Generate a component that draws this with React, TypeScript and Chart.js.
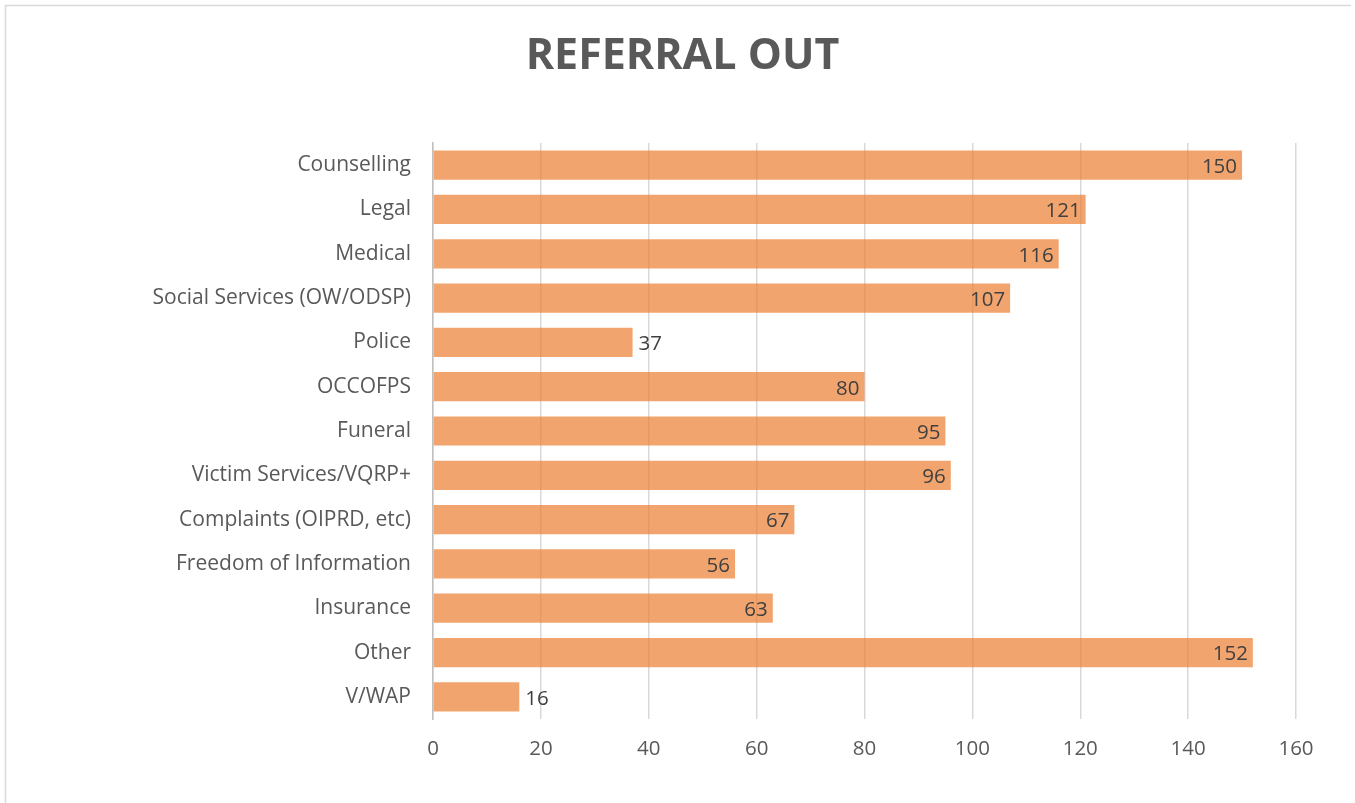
import React, { useEffect, useRef } from "react";
import { Chart, registerables } from "chart.js";

Chart.register(...registerables);

const categories = [
  "Counselling",
  "Legal",
  "Medical",
  "Social Services (OW/ODSP)",
  "Police",
  "OCCOFPS",
  "Funeral",
  "Victim Services/VQRP+",
  "Complaints (OIPRD, etc)",
  "Freedom of Information",
  "Insurance",
  "Other",
  "V/WAP",
];
const values = [150, 121, 116, 107, 37, 80, 95, 96, 67, 56, 63, 152, 16];
const xTicks = [0, 20, 40, 60, 80, 100, 120, 140, 160];
const title = "REFERRAL OUT";

const FONT = "'Open Sans', 'Noto Sans', sans-serif";

const borderPlugin = {
  id: "outerBorder",
  beforeDraw(chart: any) {
    const ctx = chart.ctx;
    ctx.save();
    ctx.fillStyle = "#ffffff";
    ctx.fillRect(0, 0, chart.width, chart.height);
    ctx.strokeStyle = "#d9d9d9";
    ctx.lineWidth = 1.5;
    ctx.beginPath();
    ctx.moveTo(5.5, chart.height);
    ctx.lineTo(5.5, 5.5);
    ctx.lineTo(chart.width - 4, 5.5);
    ctx.stroke();
    ctx.restore();
  },
  afterDraw(chart: any) {
    const ctx = chart.ctx;
    ctx.save();
    ctx.font = `bold 43px ${FONT}`;
    ctx.fillStyle = "#595959";
    ctx.textAlign = "center";
    ctx.textBaseline = "middle";
    ctx.fillText(title, chart.width / 2 + 5, 57);
    ctx.restore();
  },
};

const labelPlugin = {
  id: "barLabels",
  afterDatasetsDraw(chart: any) {
    const ctx = chart.ctx;
    const meta = chart.getDatasetMeta(0);
    const data = chart.data.datasets[0].data as number[];
    ctx.save();
    ctx.font = `20.5px ${FONT}`;
    ctx.fillStyle = "#404040";
    ctx.textBaseline = "middle";
    meta.data.forEach((bar: any, i: number) => {
      const v = data[i];
      const text = String(v);
      if (v < 40) {
        ctx.textAlign = "left";
        ctx.fillText(text, bar.x + 6, bar.y + 2);
      } else {
        ctx.textAlign = "right";
        ctx.fillText(text, bar.x - 5, bar.y + 2);
      }
    });
    ctx.restore();
  },
};

export default function App() {
  const ref = useRef<HTMLCanvasElement | null>(null);

  useEffect(() => {
    document.body.style.margin = "0";
    const canvas = ref.current;
    if (!canvas) return;
    const chart = new Chart(canvas, {
      type: "bar",
      data: {
        labels: categories,
        datasets: [
          {
            data: values,
            backgroundColor: "rgba(237,125,49,0.7)",
            borderWidth: 0,
            categoryPercentage: 1,
            barPercentage: 0.66,
          },
        ],
      },
      options: {
        indexAxis: "y",
        responsive: false,
        animation: false,
        devicePixelRatio: 1,
        layout: { padding: { left: 0, right: 59, top: 143, bottom: 22 } },
        plugins: {
          legend: { display: false },
          tooltip: { enabled: false },
          title: { display: false },
        },
        scales: {
          x: {
            min: 0,
            max: 160,
            afterBuildTicks(scale: any) {
              scale.ticks = xTicks.map((v) => ({ value: v }));
            },
            afterFit(scale: any) {
              scale.height = 62;
            },
            grid: { color: "#d9d9d9", lineWidth: 1.5, drawTicks: false },
            border: { display: false },
            ticks: {
              color: "#595959",
              font: { family: FONT, size: 20.5 },
              padding: 18,
              maxRotation: 0,
            },
          },
          y: {
            afterFit(scale: any) {
              scale.width = 433;
            },
            grid: { display: false, drawTicks: false },
            border: { display: true, color: "#bfbfbf", width: 1.5 },
            ticks: {
              color: "#595959",
              font: { family: FONT, size: 21 },
              padding: 22,
              autoSkip: false,
            },
          },
        },
      },
      plugins: [borderPlugin, labelPlugin],
    });
    return () => chart.destroy();
  }, []);

  return (
    <div style={{ width: 1355, height: 803 }}>
      <canvas ref={ref} width={1355} height={803} style={{ display: "block" }} />
    </div>
  );
}
